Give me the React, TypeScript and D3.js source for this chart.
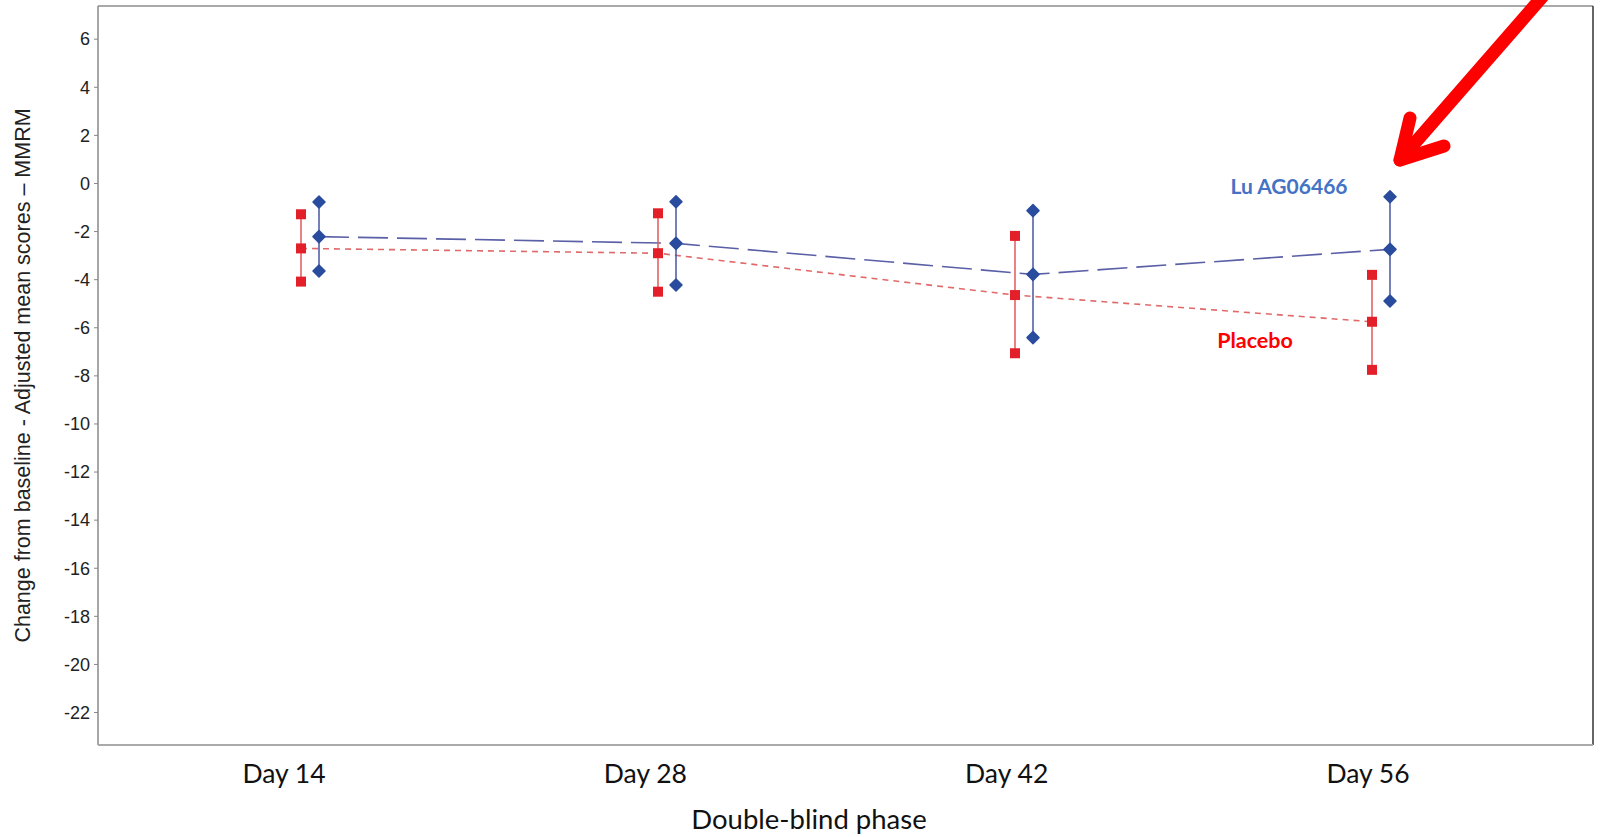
import React from "react";
import * as d3 from "d3";

const days = ["Day 14", "Day 28", "Day 42", "Day 56"];
const placeboMean = [-2.7, -2.9, -4.64, -5.75];
const placeboUpper = [-1.28, -1.24, -2.18, -3.8];
const placeboLower = [-4.08, -4.5, -7.06, -7.75];
const luMean = [-2.21, -2.49, -3.78, -2.74];
const luUpper = [-0.77, -0.76, -1.13, -0.55];
const luLower = [-3.64, -4.22, -6.41, -4.89];
const yTicks = [6, 4, 2, 0, -2, -4, -6, -8, -10, -12, -14, -16, -18, -20, -22];

const W = 1606;
const H = 837;
const plot = { left: 98, right: 1593, top: 6, bottom: 745 };

export default function App() {
  const y = d3.scaleLinear().domain([-23.35, 7.38]).range([plot.bottom, plot.top]);
  const xData = d3.scalePoint<string>().domain(days).range([310, 1381]);
  const xLabel = d3.scalePoint<string>().domain(days).range([284, 1368]);
  const offP = -9;
  const offL = 9;

  const placeboLine = d3
    .line<number>()
    .x((_, i) => (xData(days[i]) as number) + offP)
    .y((d) => y(d))(placeboMean) as string;
  const luLine = d3
    .line<number>()
    .x((_, i) => (xData(days[i]) as number) + offL)
    .y((d) => y(d))(luMean) as string;

  const diamond = (cx: number, cy: number, r = 6) =>
    `M${cx},${cy - r}L${cx + r},${cy}L${cx},${cy + r}L${cx - r},${cy}Z`;

  const arial = "'Liberation Sans', Arial, sans-serif";
  const calibri = "Lato, 'Open Sans', sans-serif";

  return (
    <svg
      width={W}
      height={H}
      style={{ position: "absolute", left: 0, top: 0, display: "block", background: "#fff" }}
    >
      {/* plot frame */}
      <line x1={plot.left} x2={plot.right} y1={plot.top} y2={plot.top} stroke="#555" strokeWidth={1.2} />
      <line x1={plot.right} x2={plot.right} y1={plot.top} y2={plot.bottom} stroke="#333" strokeWidth={1.5} />
      <line x1={plot.left} x2={plot.left} y1={plot.top} y2={plot.bottom} stroke="#888" strokeWidth={1.5} />
      <line x1={plot.left} x2={plot.right} y1={plot.bottom} y2={plot.bottom} stroke="#aaa" strokeWidth={2} />

      {/* y ticks */}
      {yTicks.map((t) => (
        <g key={t}>
          <line x1={plot.left - 4} x2={plot.left} y1={y(t)} y2={y(t)} stroke="#888" strokeWidth={1} />
          <text
            x={plot.left - 8}
            y={y(t)}
            dy="0.35em"
            textAnchor="end"
            fontFamily={arial}
            fontSize={18}
            fill="#222"
          >
            {t}
          </text>
        </g>
      ))}

      {/* y axis title */}
      <text
        transform={`translate(30,${(plot.top + plot.bottom) / 2}) rotate(-90)`}
        textAnchor="middle"
        fontFamily={arial}
        fontSize={21.5}
        fill="#222"
      >
        Change from baseline - Adjusted mean scores – MMRM
      </text>

      {/* x labels */}
      {days.map((d) => (
        <text
          key={d}
          x={xLabel(d)}
          y={783}
          textAnchor="middle"
          fontFamily={calibri}
          fontSize={26.5}
          fill="#111"
        >
          {d}
        </text>
      ))}
      <text x={809} y={829} textAnchor="middle" fontFamily={calibri} fontSize={27.5} fill="#111">
        Double-blind phase
      </text>

      {/* lines */}
      <path d={placeboLine} fill="none" stroke="#e06a6a" strokeWidth={1.6} strokeDasharray="6,5" />
      <path d={luLine} fill="none" stroke="#5a5fa6" strokeWidth={1.6} strokeDasharray="30,9" />

      {/* placebo error bars + markers */}
      {days.map((d, i) => {
        const cx = (xData(d) as number) + offP;
        return (
          <g key={"p" + d}>
            <line x1={cx} x2={cx} y1={y(placeboUpper[i])} y2={y(placeboLower[i])} stroke="#e25a5a" strokeWidth={1.5} />
            {[placeboUpper[i], placeboMean[i], placeboLower[i]].map((v, j) => (
              <rect key={j} x={cx - 5} y={y(v) - 5} width={10} height={10} fill="#e3202a" />
            ))}
          </g>
        );
      })}

      {/* Lu error bars + markers */}
      {days.map((d, i) => {
        const cx = (xData(d) as number) + offL;
        return (
          <g key={"l" + d}>
            <line x1={cx} x2={cx} y1={y(luUpper[i])} y2={y(luLower[i])} stroke="#4a55a0" strokeWidth={1.5} />
            {[luUpper[i], luMean[i], luLower[i]].map((v, j) => (
              <path key={j} d={diamond(cx, y(v))} fill="#2a4c9e" stroke="#2a4c9e" strokeWidth={1.5} strokeLinejoin="round" />
            ))}
          </g>
        );
      })}

      {/* annotations */}
      <text x={1289} y={194} textAnchor="middle" fontFamily={calibri} fontWeight="bold" fontSize={21} fill="#4472c4">
        Lu AG06466
      </text>
      <text x={1255} y={348} textAnchor="middle" fontFamily={calibri} fontWeight="bold" fontSize={21.5} fill="#ff0000">
        Placebo
      </text>

      {/* red arrow */}
      <g stroke="#ff0000" strokeWidth={13} strokeLinecap="round" strokeLinejoin="round" fill="none">
        <line x1={1550} y1={-12} x2={1400} y2={160} />
        <polyline points="1410,118 1400,160 1444,146" />
      </g>
    </svg>
  );
}
